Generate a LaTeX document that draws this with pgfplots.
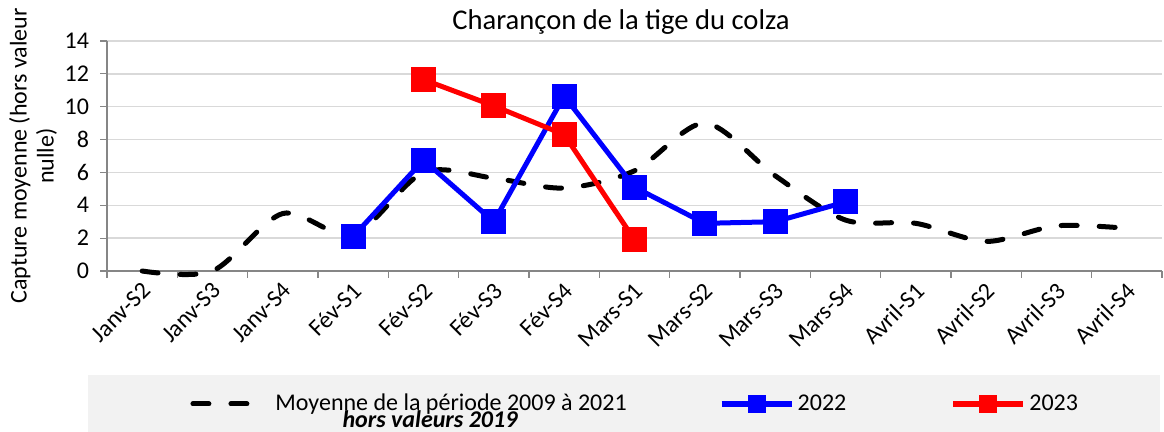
\documentclass[border=0pt]{standalone}
\usepackage{fontspec}
\setmainfont{Carlito}
\usepackage{pgfplots}
\pgfplotsset{compat=1.18}
\definecolor{gridc}{HTML}{D9D9D9}
\definecolor{axisc}{HTML}{868686}
\definecolor{legbg}{HTML}{F2F2F2}
\definecolor{myblue}{HTML}{0000FF}
\definecolor{myred}{HTML}{FF0000}
\pgfplotsset{
  dashleg/.style={legend image code/.code={\draw[##1] (0pt,0pt) -- (27.5pt,0pt);}},
  markleg/.style={legend image code/.code={\draw[##1, line width=3pt, mark size=3pt, mark repeat=2, mark phase=2] plot coordinates {(0pt,0pt) (17.5pt,0pt) (35pt,0pt)};}},
}
\begin{document}
\begin{tikzpicture}
\path[use as bounding box] (0,0) rectangle (582pt,216pt);
\fill[legbg] (44pt,0pt) rectangle (580pt,28.5pt);
\node[font=\fontsize{14.3}{17}\selectfont] at (310.5pt,205pt) {Charançon de la tige du colza};
\node[font=\fontsize{12}{14}\selectfont\bfseries\itshape] at (215pt,6.5pt) {hors valeurs 2019};
\begin{axis}[
  at={(53.5pt,80.5pt)}, anchor=south west,
  scale only axis, width=527.5pt, height=115pt,
  xmin=-0.5, xmax=14.5, ymin=0, ymax=14,
  ytick={0,2,...,14},
  xtick={0,...,14},
  xticklabels={Janv-S2,Janv-S3,Janv-S4,Fév-S1,Fév-S2,Fév-S3,Fév-S4,Mars-S1,Mars-S2,Mars-S3,Mars-S4,Avril-S1,Avril-S2,Avril-S3,Avril-S4},
  minor xtick={-0.5,0.5,...,14.5},
  major x tick style={draw=none},
  tick align=outside,
  minor tick length=3.5pt,
  major tick length=3.5pt,
  tick style={axisc, line width=0.6pt},
  ymajorgrids, grid style={gridc, line width=0.7pt},
  axis x line*=bottom, axis y line*=left,
  axis line style={axisc, line width=0.8pt, -},
  /pgf/number format/assume math mode=true,
  ticklabel style={font=\fontsize{12}{14}\selectfont},
  yticklabel style={xshift=-2pt},
  xticklabel style={rotate=45, anchor=north east, xshift=-0.5pt, yshift=0.5pt, inner sep=1pt},
  ylabel={Capture moyenne (hors valeur\\nulle)},
  every axis y label/.style={at={(axis description cs:-0.0701,0.5)}, rotate=90, anchor=center, align=center, font=\fontsize{12}{13.5}\selectfont},
  clip=false,
  legend columns=3,
  legend style={at={(axis description cs:0.0787,-0.578)}, anchor=west, fill=none, draw=none, inner sep=0pt,
    font=\fontsize{12}{14}\selectfont,
    nodes={inner sep=0pt},
    /tikz/column 1/.style={column sep=12.5pt},
    /tikz/column 2/.style={column sep=46pt},
    /tikz/column 3/.style={column sep=1.5pt},
    /tikz/column 4/.style={column sep=52pt},
    /tikz/column 5/.style={column sep=1.5pt}},
  legend cell align=left,
]
\addplot[black, line width=2.5pt, line cap=round, dash pattern=on 8pt off 11pt, smooth, tension=0.5, dashleg]
  coordinates {(0,0) (1,0) (2,3.5) (3,2.2) (4,6.0) (5,5.65) (6,5.05) (7,6.1) (8,9.0) (9,5.8) (10,3.1) (11,2.9) (12,1.8) (13,2.75) (14,2.6)};
\addlegendentry{Moyenne de la période 2009 à 2021}
\addplot[myblue, line width=2.5pt, mark=square*, mark size=5pt, mark options={solid}, markleg]
  coordinates {(3,2.1) (4,6.75) (5,3.0) (6,10.65) (7,5.1) (8,2.9) (9,3.0) (10,4.2)};
\addlegendentry{2022}
\addplot[myred, line width=2.5pt, mark=square*, mark size=5pt, mark options={solid}, markleg]
  coordinates {(4,11.65) (5,10.05) (6,8.3) (7,1.9)};
\addlegendentry{2023}
\end{axis}
\end{tikzpicture}
\end{document}
